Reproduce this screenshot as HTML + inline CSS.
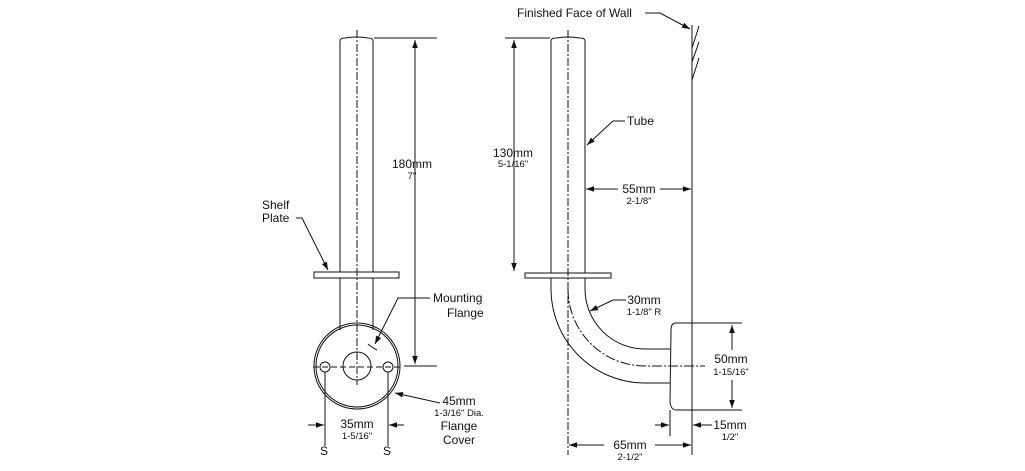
<!DOCTYPE html>
<html><head><style>
html,body{margin:0;padding:0;background:#fff;}
svg{display:block;}
text{font-family:"Liberation Sans",sans-serif;fill:#111;}
.b{font-size:12px;}
.s{font-size:9.5px;}
.m{text-anchor:middle;}
</style></head><body>
<svg width="1025" height="471" viewBox="0 0 1025 471" xmlns="http://www.w3.org/2000/svg">
<defs>
<marker id="a" viewBox="0 0 10 10" refX="10" refY="5" markerWidth="8" markerHeight="8" orient="auto-start-reverse" markerUnits="userSpaceOnUse">
<path d="M0,1.5 L10,5 L0,8.5 Z" fill="#111"/></marker>
</defs>
<g stroke="#111" stroke-width="1" fill="none">
<path d="M340,272 V41 Q340,38 345,38 Q357,36 368,38 Q373,38 373,41 V272"/>
<line x1="340" y1="278" x2="340" y2="330"/>
<line x1="373" y1="278" x2="373" y2="330"/>
<line x1="357" y1="30" x2="357" y2="385" stroke-dasharray="8,2,2,2"/>
<rect x="314" y="272" width="85" height="6"/>
<circle cx="357" cy="366" r="43"/>
<circle cx="357" cy="366" r="41"/>
<circle cx="357" cy="366" r="14"/>
<circle cx="325" cy="367" r="5"/>
<circle cx="388" cy="367" r="5"/>
<line x1="313" y1="367" x2="400" y2="367" stroke-dasharray="6,3"/>
<line x1="325" y1="372" x2="325" y2="446"/>
<line x1="388" y1="372" x2="388" y2="446"/>
<line x1="374" y1="38" x2="437" y2="38"/>
<line x1="404" y1="366" x2="437" y2="366"/>
<line x1="415" y1="40" x2="415" y2="364" marker-start="url(#a)" marker-end="url(#a)"/>
<line x1="308" y1="425" x2="324" y2="425" marker-end="url(#a)"/>
<line x1="404" y1="425" x2="389" y2="425" marker-end="url(#a)"/>
<path d="M296,218 H302 L328,270" marker-end="url(#a)"/>
<path d="M430,298 H398 L375,344" marker-end="url(#a)"/>
<path d="M368,344 Q373,348 377,350" />
<path d="M440,403 L395,393" marker-end="url(#a)"/>
<path d="M551,273 V41 Q551,38 556,38 Q568,36 580,38 Q585,38 585,41 V273"/>
<line x1="568" y1="30" x2="568" y2="455" stroke-dasharray="8,2,2,2"/>
<rect x="525" y="273" width="86" height="5"/>
<path d="M551,278 V289 A94,94 0 0 0 645,383 H670"/>
<path d="M585,278 V289 A60,60 0 0 0 645,349 H670"/>
<path d="M568,289 A77,77 0 0 0 645,366 H705" stroke-dasharray="10,2,2,2"/>
<path d="M742,323 H676 Q671,323 671,330 L670,402 Q671,410 676,410 H742"/>
<line x1="670" y1="410" x2="670" y2="436"/>
<line x1="692" y1="25" x2="692" y2="455"/>
<line x1="692" y1="48" x2="699" y2="26"/>
<line x1="692" y1="62" x2="699" y2="42"/>
<line x1="692" y1="80" x2="699" y2="58"/>
<line x1="505" y1="38" x2="550" y2="38"/>
<line x1="514" y1="40" x2="514" y2="271" marker-start="url(#a)" marker-end="url(#a)"/>
<line x1="586" y1="189" x2="618" y2="189" marker-start="url(#a)"/>
<line x1="660" y1="189" x2="691" y2="189" marker-end="url(#a)"/>
<line x1="732" y1="325" x2="732" y2="350" marker-start="url(#a)"/>
<line x1="732" y1="380" x2="732" y2="408" marker-end="url(#a)"/>
<line x1="569" y1="445" x2="604" y2="445" marker-start="url(#a)"/>
<line x1="655" y1="445" x2="691" y2="445" marker-end="url(#a)"/>
<line x1="655" y1="425" x2="669" y2="425" marker-end="url(#a)"/>
<line x1="712" y1="425" x2="693" y2="425" marker-end="url(#a)"/>
<path d="M645,13 L660,13 L690,29" marker-end="url(#a)"/>
<path d="M625,121 H613 L587,145" marker-end="url(#a)"/>
<path d="M626,300 H613 L590,311" marker-end="url(#a)"/>
</g>
<text class="b" x="262" y="209">Shelf</text>
<text class="b" x="262" y="222">Plate</text>
<text class="b m" x="412" y="168">180mm</text>
<text class="s m" x="412" y="179">7"</text>
<text class="b" x="433" y="302">Mounting</text>
<text class="b" x="447" y="317">Flange</text>
<text class="b m" x="459" y="405">45mm</text>
<text class="s m" x="459" y="416">1-3/16" Dia.</text>
<text class="b m" x="459" y="430">Flange</text>
<text class="b m" x="459" y="444">Cover</text>
<text class="b m" x="357" y="428">35mm</text>
<text class="s m" x="357" y="439">1-5/16"</text>
<text class="b" x="320" y="455">S</text>
<text class="b" x="383" y="455">S</text>
<text class="b" x="517" y="17">Finished Face of Wall</text>
<text class="b" x="627" y="125">Tube</text>
<text class="b m" x="513" y="157">130mm</text>
<text class="s m" x="513" y="167">5-1/16"</text>
<text class="b m" x="639" y="193">55mm</text>
<text class="s m" x="639" y="204">2-1/8"</text>
<text class="b m" x="644" y="304">30mm</text>
<text class="s m" x="644" y="315">1-1/8" R</text>
<text class="b m" x="731" y="363">50mm</text>
<text class="s m" x="731" y="375">1-15/16"</text>
<text class="b m" x="730" y="429">15mm</text>
<text class="s m" x="730" y="440">1/2"</text>
<text class="b m" x="630" y="449">65mm</text>
<text class="s m" x="630" y="460">2-1/2"</text>
</svg>
</body></html>
